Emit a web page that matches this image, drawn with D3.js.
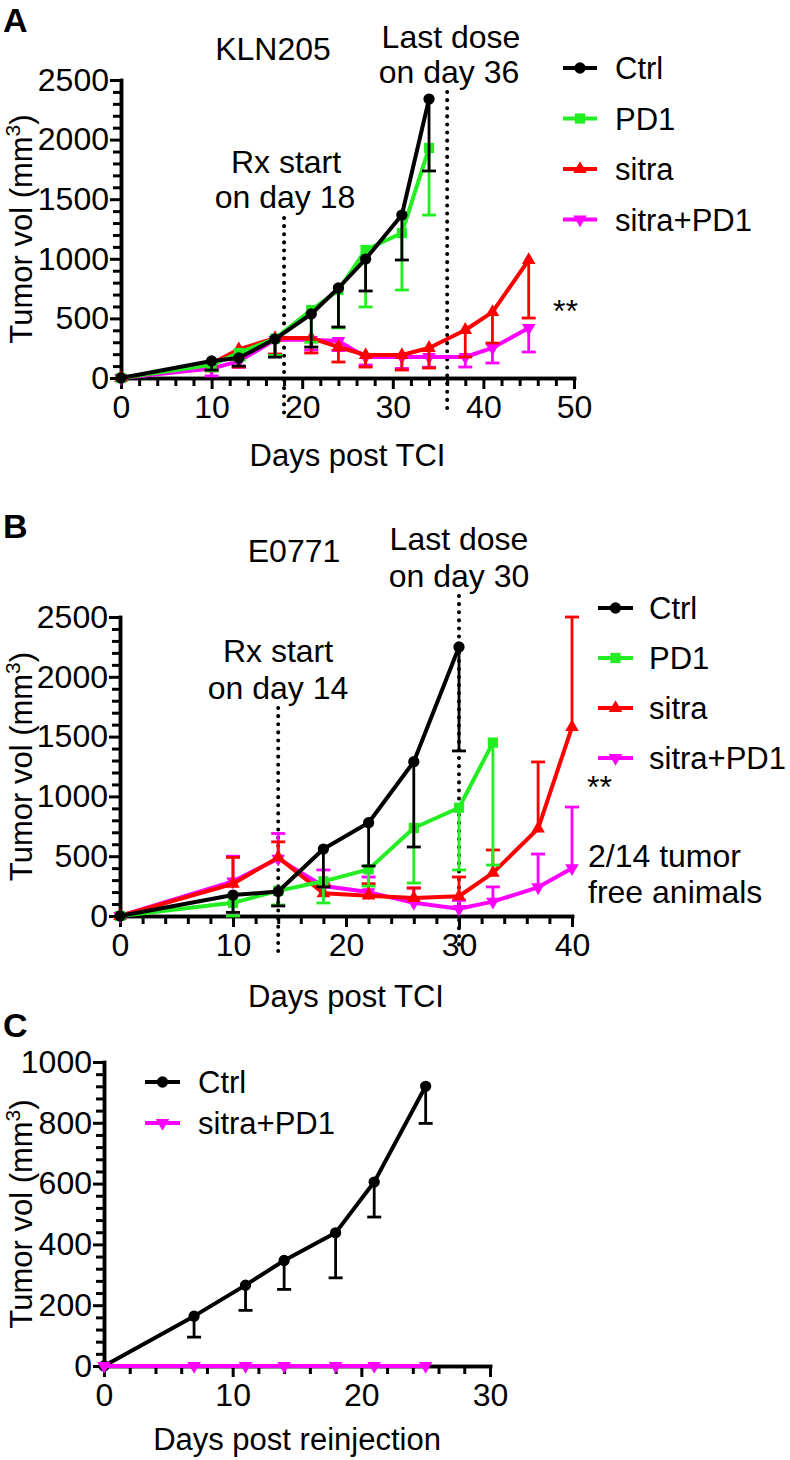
<!DOCTYPE html>
<html><head><meta charset="utf-8">
<script src="https://cdn.jsdelivr.net/npm/d3@7"></script>
<style>
body{margin:0;background:#fff}
svg{display:block}
text{font-family:"Liberation Sans",Arial,Helvetica,sans-serif;fill:#000}
</style>
</head><body>
<svg id="chart" width="790" height="1460"></svg>
<script>
// ---------------- DATA ----------------
const seriesNames = ["Ctrl", "PD1", "sitra", "sitra+PD1"];
const seriesColors = ["#000000", "#22ee22", "#ff0000", "#ff00ff"];

// Panel A (KLN205)
const aDaysCtrl  = [0, 10, 13, 17, 21, 24, 27, 31, 34];
const aCtrl      = [0, 143, 168, 327, 537, 755, 998, 1367, 2340];
const aCtrlErr   = [0, 76, 68, 152, 277, 327, 268, 377, 603];
const aDaysPD1   = [0, 10, 13, 17, 21, 24, 27, 31, 34];
const aPD1       = [0, 110, 210, 330, 570, 738, 1074, 1216, 1930];
const aPD1Err    = [0, 50, 60, 140, 270, 318, 478, 478, 563];
const aDaysSitra = [0, 10, 13, 17, 21, 24, 27, 31, 34, 38, 41, 45];
const aSitra     = [0, 120, 240, 335, 335, 260, 193, 193, 252, 403, 553, 990];
const aSitraErr  = [0, 60, 148, 135, 125, 126, 101, 126, 168, 227, 260, 487];
const aDaysCombo = [0, 10, 13, 17, 21, 24, 27, 31, 34, 38, 41, 45];
const aCombo     = [0, 80, 140, 320, 320, 310, 176, 176, 176, 176, 252, 420];
const aComboErr  = [0, 63, 50, 120, 85, 80, 67, 96, 86, 84, 126, 202];
const aXTicks = [0, 10, 20, 30, 40, 50];
const aYTicks = [0, 500, 1000, 1500, 2000, 2500];

// Panel B (E0771)
const bDaysCtrl  = [0, 10, 14, 18, 22, 26, 30];
const bCtrl      = [0, 175, 205, 560, 780, 1290, 2250];
const bCtrlErr   = [0, 145, 121, 317, 362, 713, 870];
const bDaysPD1   = [0, 10, 14, 18, 22, 26, 30, 33];
const bPD1       = [0, 110, 210, 290, 390, 736, 905, 1450];
const bPD1Err    = [0, 110, 118, 181, 140, 460, 520, 1024];
const bDaysSitra = [0, 10, 14, 18, 22, 26, 30, 33, 37, 40];
const bSitra     = [0, 270, 490, 190, 170, 150, 165, 360, 730, 1580];
const bSitraErr  = [0, 220, 130, 70, 100, 84, 161, 192, 558, 920];
const bDaysCombo = [0, 10, 14, 18, 22, 26, 30, 33, 37, 40];
const bCombo     = [0, 290, 480, 250, 200, 110, 60, 120, 240, 400];
const bComboErr  = [0, 210, 210, 135, 126, 124, 70, 123, 278, 511];
const bXTicks = [0, 10, 20, 30, 40];
const bYTicks = [0, 500, 1000, 1500, 2000, 2500];

// Panel C (reinjection)
const cDays      = [0, 7, 11, 14, 18, 21, 25];
const cCtrl      = [0, 164, 266, 347, 438, 605, 920];
const cCtrlErr   = [0, 69, 83, 95, 148, 115, 122];
const cCombo     = [0, 0, 0, 0, 0, 0, 0];
const cComboErr  = [0, 0, 0, 0, 0, 0, 0];
const cXTicks = [0, 10, 20, 30];
const cYTicks = [0, 200, 400, 600, 800, 1000];

// ---------------- DRAWING ----------------
const svg = d3.select("#chart");
const FONT = 32;

function symbolPath(idx, size) {
  const types = [d3.symbolCircle, d3.symbolSquare, d3.symbolTriangle, d3.symbolTriangle];
  return d3.symbol().type(types[idx]).size(size)();
}
const symSizes = [100, 105, 80, 80];
const symRot = [0, 0, 0, 180];

function drawPanel(p) {
  const g = svg.append("g");
  const x = d3.scaleLinear().domain(p.xDomain).range(p.xRange);
  const y = d3.scaleLinear().domain(p.yDomain).range(p.yRange);

  // dotted reference lines
  (p.vlines || []).forEach(v => {
    g.append("line")
      .attr("x1", x(v.day)).attr("x2", x(v.day))
      .attr("y1", v.top).attr("y2", y(0) + 36)
      .attr("stroke", "#000").attr("stroke-width", 4)
      .attr("stroke-linecap", "round").attr("stroke-dasharray", "0.1 8");
  });

  // axes
  const xMinor = d3.range(p.xDomain[0], p.xDomain[1] + 0.001, p.xMinorStep).filter(v => !p.xTicks.includes(v));
  const yMinor = d3.range(p.yDomain[0], p.yDomain[1] + 0.001, p.yMinorStep).filter(v => !p.yTicks.includes(v));
  const ax = g.append("g").attr("transform", `translate(0,${y(0)})`);
  ax.append("g").call(d3.axisBottom(x).tickValues(xMinor).tickSize(8).tickSizeOuter(0).tickFormat(""));
  ax.append("g").call(d3.axisBottom(x).tickValues(p.xTicks).tickSize(11).tickSizeOuter(0).tickPadding(6).tickFormat(d3.format("d")));
  const ay = g.append("g").attr("transform", `translate(${x(0)},0)`);
  ay.append("g").call(d3.axisLeft(y).tickValues(yMinor).tickSize(8).tickSizeOuter(0).tickFormat(""));
  ay.append("g").call(d3.axisLeft(y).tickValues(p.yTicks).tickSize(11).tickSizeOuter(0).tickPadding(1).tickFormat(d3.format("d")));
  g.selectAll(".domain").attr("stroke", "#000").attr("stroke-width", 3.5).attr("stroke-linecap", "square");
  g.selectAll(".tick line").attr("stroke", "#000").attr("stroke-width", 3);
  g.selectAll(".tick text").attr("font-size", FONT).attr("font-family", "Liberation Sans, Arial, sans-serif").attr("fill", "#000");

  // axis titles
  g.append("text").attr("x", (p.xRange[0] + p.xRange[1]) / 2).attr("y", p.xTitleY)
    .attr("text-anchor", "middle").attr("font-size", 31).text(p.xTitle);
  const yc = (p.yRange[0] + p.yRange[1]) / 2;
  const yt = g.append("text").attr("transform", `translate(32,${yc}) rotate(-90)`)
    .attr("text-anchor", "middle").attr("font-size", 31);
  yt.append("tspan").text("Tumor vol (mm");
  yt.append("tspan").attr("font-size", 21).attr("dy", -12).text("3");
  yt.append("tspan").attr("dy", 12).text(")");

  // series
  p.series.forEach(s => {
    const col = seriesColors[s.idx];
    const sg = g.append("g");
    s.days.forEach((d, i) => {
      const e = s.errs[i];
      if (!e) return;
      const y2 = s.vals[i] + s.dir * e;
      sg.append("line").attr("x1", x(d)).attr("x2", x(d)).attr("y1", y(s.vals[i])).attr("y2", y(y2))
        .attr("stroke", col).attr("stroke-width", 2.8);
      sg.append("line").attr("x1", x(d) - 7).attr("x2", x(d) + 7).attr("y1", y(y2)).attr("y2", y(y2))
        .attr("stroke", col).attr("stroke-width", 2.8);
    });
    const line = d3.line().x((d, i) => x(s.days[i])).y((d, i) => y(s.vals[i]));
    sg.append("path").attr("d", line(s.vals)).attr("fill", "none").attr("stroke", col)
      .attr("stroke-width", 4).attr("stroke-linejoin", "round");
    s.days.forEach((d, i) => {
      sg.append("path").attr("d", symbolPath(s.idx, symSizes[s.idx]))
        .attr("transform", `translate(${x(d)},${y(s.vals[i])}) rotate(${symRot[s.idx]})`)
        .attr("fill", col);
    });
  });

  // legend
  p.legend.items.forEach((idx, k) => {
    const ly = p.legend.y0 + k * p.legend.dy;
    const lg = g.append("g");
    const col = seriesColors[idx];
    lg.append("line").attr("x1", p.legend.x1).attr("x2", p.legend.x2).attr("y1", ly).attr("y2", ly)
      .attr("stroke", col).attr("stroke-width", 4);
    lg.append("path").attr("d", symbolPath(idx, symSizes[idx]))
      .attr("transform", `translate(${(p.legend.x1 + p.legend.x2) / 2},${ly}) rotate(${symRot[idx]})`)
      .attr("fill", col);
    lg.append("text").attr("x", p.legend.tx).attr("y", ly + 11).attr("font-size", 31).text(seriesNames[idx]);
  });

  // annotations
  (p.notes || []).forEach(n => {
    g.append("text").attr("x", n.x).attr("y", n.y).attr("text-anchor", n.anchor || "middle")
      .attr("font-size", n.size || FONT).attr("font-weight", n.bold ? "bold" : null).text(n.t);
  });
}

function mk(idx, days, vals, errs, dir) { return { idx, days, vals, errs, dir }; }

// Panel A
drawPanel({
  xDomain: [0, 50], xRange: [121, 574], yDomain: [0, 2500], yRange: [378, 80],
  xTicks: aXTicks, yTicks: aYTicks, xMinorStep: 2, yMinorStep: 100,
  xTitle: "Days post TCI", xTitleY: 466,
  vlines: [{ day: 18, top: 218 }, { day: 36, top: 92 }],
  series: [
    mk(3, aDaysCombo, aCombo, aComboErr, -1),
    mk(2, aDaysSitra, aSitra, aSitraErr, -1),
    mk(1, aDaysPD1, aPD1, aPD1Err, -1),
    mk(0, aDaysCtrl, aCtrl, aCtrlErr, -1)
  ],
  legend: { items: [0, 1, 2, 3], x1: 563, x2: 597, tx: 615, y0: 68, dy: 50.5 },
  notes: [
    { t: "A", x: 3, y: 32, anchor: "start", bold: true, size: 34 },
    { t: "KLN205", x: 273, y: 60 },
    { t: "Rx start", x: 286, y: 173 },
    { t: "on day 18", x: 285, y: 208 },
    { t: "Last dose", x: 451, y: 48 },
    { t: "on day 36", x: 449, y: 83 },
    { t: "**", x: 553, y: 322, anchor: "start" }
  ]
});

// Panel B
drawPanel({
  xDomain: [0, 40], xRange: [120, 572], yDomain: [0, 2500], yRange: [916, 617],
  xTicks: bXTicks, yTicks: bYTicks, xMinorStep: 2, yMinorStep: 100,
  xTitle: "Days post TCI", xTitleY: 1007,
  vlines: [{ day: 14, top: 708 }, { day: 30, top: 596 }],
  series: [
    mk(3, bDaysCombo, bCombo, bComboErr, 1),
    mk(2, bDaysSitra, bSitra, bSitraErr, 1),
    mk(1, bDaysPD1, bPD1, bPD1Err, -1),
    mk(0, bDaysCtrl, bCtrl, bCtrlErr, -1)
  ],
  legend: { items: [0, 1, 2, 3], x1: 598, x2: 633, tx: 649, y0: 608, dy: 50 },
  notes: [
    { t: "B", x: 3, y: 538, anchor: "start", bold: true, size: 34 },
    { t: "E0771", x: 294, y: 562 },
    { t: "Rx start", x: 278, y: 662 },
    { t: "on day 14", x: 278, y: 699 },
    { t: "Last dose", x: 459, y: 550 },
    { t: "on day 30", x: 459, y: 587 },
    { t: "**", x: 587, y: 798, anchor: "start" },
    { t: "2/14 tumor", x: 588, y: 867, anchor: "start" },
    { t: "free animals", x: 588, y: 903, anchor: "start" }
  ]
});

// Panel C
drawPanel({
  xDomain: [0, 30], xRange: [104, 490], yDomain: [0, 1000], yRange: [1366, 1062],
  xTicks: cXTicks, yTicks: cYTicks, xMinorStep: 2, yMinorStep: 40,
  xTitle: "Days post reinjection", xTitleY: 1450,
  vlines: [],
  series: [
    mk(0, cDays, cCtrl, cCtrlErr, -1),
    mk(3, cDays, cCombo, cComboErr, -1)
  ],
  legend: { items: [0, 3], x1: 145, x2: 180, tx: 198, y0: 1082, dy: 41 },
  notes: [
    { t: "C", x: 3, y: 1037, anchor: "start", bold: true, size: 34 }
  ]
});
</script>
</body></html>
